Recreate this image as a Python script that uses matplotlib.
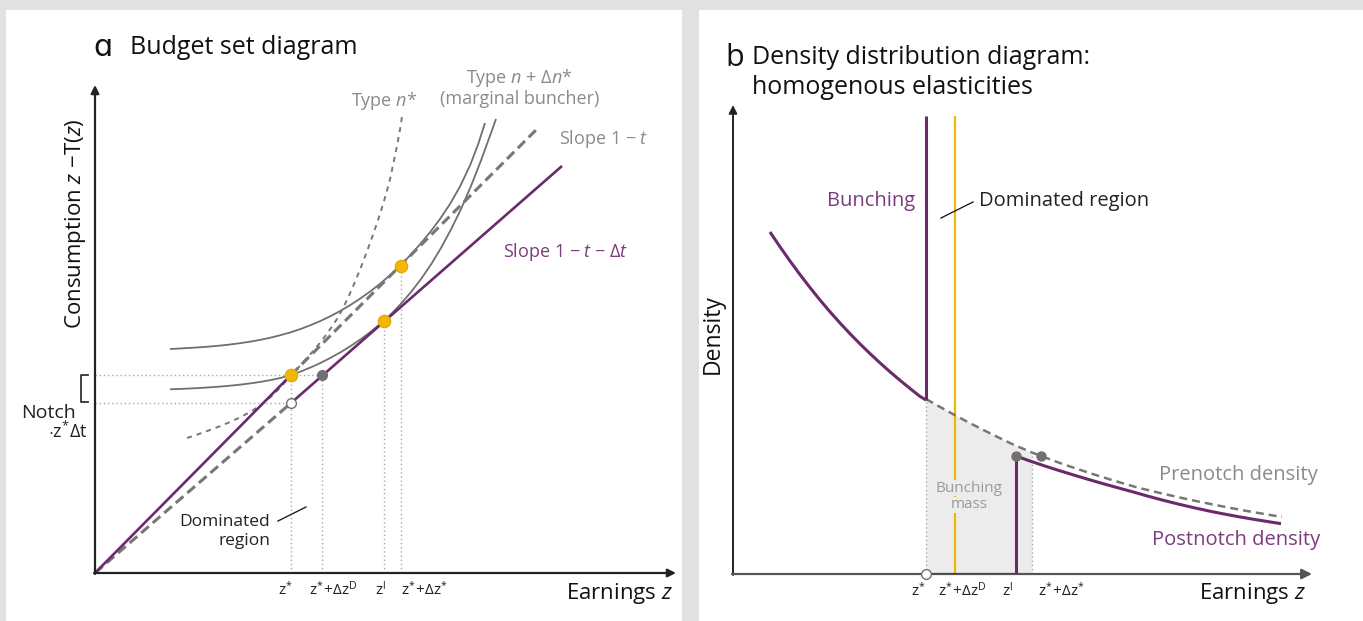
import matplotlib
matplotlib.use("Agg")
import matplotlib.pyplot as plt
from matplotlib.patches import Rectangle

plt.rcParams['font.family'] = ['Open Sans', 'DejaVu Sans']
plt.rcParams['mathtext.fontset'] = 'custom'
plt.rcParams['mathtext.rm'] = 'Open Sans'
plt.rcParams['mathtext.it'] = 'Open Sans:italic'
plt.rcParams['mathtext.bf'] = 'Open Sans:bold'

# ---------------- Panel a: budget set (arbitrary units) ----------------
pre_notch_z = [0, 196]
pre_notch_c = [0, 198]
counterfactual_z = [196, 443]
counterfactual_c = [198, 445]
post_notch_z = [196, 467]
post_notch_c = [170, 407]
dominated_z = [0, 196]
dominated_c = [0, 170]

ic_upper_z = [75, 85, 95, 105, 115, 125, 135, 145, 155, 165, 175, 185, 195, 205, 215, 225, 235, 245,
              255, 265, 275, 285, 295, 305, 315, 325, 335, 345, 355, 365, 375, 383, 390]
ic_upper_c = [224, 224.5, 225.1, 225.7, 226.5, 227.4, 228.5, 229.8, 231.3, 233.1, 235.2, 237.7, 240.5,
              243.8, 247.6, 251.8, 256.6, 261.9, 267.8, 274.3, 281.4, 289.2, 297.8, 307.2, 317.5, 328.7,
              340.7, 354, 369, 386.5, 407.5, 428.3, 450]
ic_lower_z = [75, 86, 96, 106, 116, 126, 136, 146, 156, 166, 176, 186, 196, 206, 216, 226, 236, 246,
              256, 266, 276, 286, 289, 296, 306, 316, 326, 336, 346, 356, 366, 376, 386, 396, 401]
ic_lower_c = [183.7, 184.1, 184.55, 185.1, 185.75, 186.5, 187.4, 188.45, 189.7, 191.2, 193, 195.2, 198,
              201.6, 205.7, 210.3, 215.4, 221, 227.2, 234, 241.5, 249.8, 252.4, 258.9, 269.3, 280.9,
              293.9, 308.5, 325, 343.5, 364, 387, 412.5, 440, 454]
nstar_z = [92, 103, 115, 125, 135, 145, 155, 164, 172, 180, 188, 196, 203, 210, 218, 225, 231, 236, 242,
           247, 252, 258, 263, 268, 273, 277, 281, 285, 289, 292, 295, 298, 301, 303, 306, 307]
nstar_c = [135, 138.7, 143, 146.8, 151, 155.6, 161, 166.6, 172.8, 180, 188.5, 197.5, 205, 212.8, 221.8,
           230.2, 238, 245, 254, 263, 273, 286.5, 298.5, 311, 324.5, 335.5, 347, 359, 372, 382.5, 393.5,
           408, 422, 432.5, 449, 457]

orange_z = [196, 289, 306]
orange_c = [198, 252, 307]
gray_dot_z = [227]
gray_dot_c = [198]
open_z = [196]
open_c = [170]

a_tick_labels = [r"$\mathrm{z^{*}}$", r"$\mathrm{z^{*}\!+\!Δz^{D}}$", r"$\mathrm{z^{l}}$",
                 r"$\mathrm{z^{*}\!+\!Δz^{*}}$"]
a_tick_label_x = [190, 238, 286, 329]

# ---------------- Panel b: densities ----------------
left_density_z = [37, 47, 57, 67, 77, 87, 97, 107, 117, 127, 137, 147, 157, 167, 177, 187, 193]
left_density_h = [342, 327.2, 313, 299.4, 286.4, 274, 262.2, 251, 240.3, 230.1, 220.4, 211.1, 202.2,
                  193.7, 185.5, 177.6, 174]
prenotch_z = [193, 205, 220, 235, 252, 266, 280, 299, 308, 325, 340, 360, 382, 405, 425, 448, 470, 490,
              510, 530, 549]
prenotch_h = [175, 168.2, 159.9, 151.9, 143.2, 136.3, 129.6, 121.5, 118, 111.7, 106.5, 99.9, 93, 86.3,
              81.5, 76.2, 71.5, 67.5, 63.7, 60.2, 57]
postnotch_z = [283, 295, 310, 325, 340, 355, 370, 385, 400, 415, 430, 445, 460, 475, 490, 505, 520, 535, 548]
postnotch_h = [118, 113.7, 108.6, 103.8, 99.2, 94.7, 90.35, 86.15, 82.1, 77.8, 73.8, 70, 66.5, 63.2,
               60.2, 57.4, 54.8, 52.4, 50.3]
b_zstar, b_zD, b_zI, b_zDstar = 193, 222, 283, 299
spike_top = 458
b_gray_dots_z = [283, 308]
b_gray_dots_h = [118, 118]
b_tick_labels = a_tick_labels
b_tick_label_x = [185, 229, 275, 328]

PURPLE = "#6b2a6c"
PURPLE_TXT = "#7b3b7c"
ORANGE = "#f2b705"
GRAY_LINE = "#6f6f6f"
DASH = "#777777"
DOT = "#a8a8a8"
GRAY_TXT = "#8a8a8a"
SHADE = "#ececec"

W, H = 1363, 621
fig = plt.figure(figsize=(W / 100, H / 100), dpi=100, facecolor="#e1e1e1")
fig.add_artist(Rectangle((6 / W, 0), (682 - 6) / W, (H - 10) / H, transform=fig.transFigure,
                         facecolor="white", edgecolor="none", zorder=0))
fig.add_artist(Rectangle((699 / W, 0), (W - 699) / W, (H - 10) / H, transform=fig.transFigure,
                         facecolor="white", edgecolor="none", zorder=0))


def make_axes(ox, oy, w=600, h=500):
    ax = fig.add_axes([ox / W, (H - oy) / H, w / W, h / H])
    ax.set_xlim(0, w)
    ax.set_ylim(0, h)
    ax.axis("off")
    return ax


DOTTED = (0, (1, 2))
LONGDASH = (0, (3.3, 1.7))

# ======================= Panel a =======================
ax = make_axes(95, 573)
kw = dict(clip_on=False, solid_capstyle="butt", solid_joinstyle="round")
for z, c in zip(orange_z + gray_dot_z, orange_c + gray_dot_c):
    ax.plot([z, z], [0, c], color=DOT, lw=1, ls=DOTTED, clip_on=False, zorder=1)
ax.plot([0, gray_dot_z[0]], [gray_dot_c[0], gray_dot_c[0]], color=DOT, lw=1, ls=DOTTED, clip_on=False, zorder=1)
ax.plot([0, open_z[0]], [open_c[0], open_c[0]], color=DOT, lw=1, ls=DOTTED, clip_on=False, zorder=1)

ax.plot(ic_upper_z, ic_upper_c, color=GRAY_LINE, lw=1.3, zorder=2, **kw)
ax.plot(ic_lower_z, ic_lower_c, color=GRAY_LINE, lw=1.3, zorder=2, **kw)
ax.plot(nstar_z, nstar_c, color=DASH, lw=1.4, ls=(0, (2.6, 2.6)), zorder=2, clip_on=False)
ax.plot(counterfactual_z, counterfactual_c, color=DASH, lw=2.2, ls=LONGDASH, zorder=2, clip_on=False)
ax.plot(dominated_z, dominated_c, color=DASH, lw=2.2, ls=LONGDASH, zorder=2, clip_on=False)
ax.plot(pre_notch_z, pre_notch_c, color=PURPLE, lw=1.9, zorder=3, **kw)
ax.plot(post_notch_z, post_notch_c, color=PURPLE, lw=1.9, zorder=3, **kw)

ax.plot(orange_z, orange_c, "o", ms=9, mfc=ORANGE, mec="#e3a500", mew=0.8, zorder=5, clip_on=False)
ax.plot(gray_dot_z, gray_dot_c, "o", ms=7, mfc="#707070", mec="#707070", zorder=5, clip_on=False)
ax.plot(open_z, open_c, "o", ms=7, mfc="white", mec="#707070", mew=1, zorder=5, clip_on=False)

ax.annotate("", xy=(0, 488), xytext=(0, -1),
            arrowprops=dict(arrowstyle="-|>", color="#222222", lw=1.6, mutation_scale=12, shrinkA=0, shrinkB=0))
ax.annotate("", xy=(581, 0), xytext=(-1, 0),
            arrowprops=dict(arrowstyle="-|>", color="#222222", lw=1.6, mutation_scale=12, shrinkA=0, shrinkB=0))

ax.plot([-7, -14, -14, -7], [198, 198, 171, 171], color="#333333", lw=1.3, clip_on=False)
ax.text(-19, 160, "Notch", ha="right", va="center", fontsize=14, color="#222222")
ax.text(-8, 142, r"$\mathrm{\cdot z^{*}Δt}$", ha="right", va="center", fontsize=13, color="#222222")

for x, lab in zip(a_tick_label_x, a_tick_labels):
    ax.text(x, -17, lab, ha="center", va="center", fontsize=11, color="#222222")

ax.text(-2, 526, "ɑ", ha="left", va="center", fontsize=22, color="#111111", family=["DejaVu Sans"])
ax.text(35, 526, "Budget set diagram", ha="left", va="center", fontsize=18, color="#111111")
ax.text(-19, 349, r"Consumption $z$ −T($z$)", rotation=90, ha="center", va="center",
        fontsize=16, color="#111111")
ax.text(578, -21, r"Earnings $z$", ha="right", va="center", fontsize=16, color="#111111")

LAB = 13
ax.text(322, 472, r"Type $n$*", ha="right", va="center", fontsize=LAB, color=GRAY_TXT)
ax.text(424, 495, r"Type $n$ + Δ$n$*", ha="center", va="center", fontsize=LAB, color=GRAY_TXT)
ax.text(425, 474, "(marginal buncher)", ha="center", va="center", fontsize=LAB, color=GRAY_TXT)
ax.text(464, 434, r"Slope 1 − $t$", ha="left", va="center", fontsize=LAB, color=GRAY_TXT)
ax.text(408, 321, r"Slope 1 − $t$ − Δ$t$", ha="left", va="center", fontsize=LAB, color=PURPLE_TXT)
ax.text(175, 51, "Dominated", ha="right", va="center", fontsize=12.5, color="#222222")
ax.text(175, 32, "region", ha="right", va="center", fontsize=12.5, color="#222222")
ax.plot([183, 211], [52, 66], color="#222222", lw=1, clip_on=False)

# ======================= Panel b =======================
bx = make_axes(733, 574)
shade_z = [z for z in prenotch_z if z <= b_zDstar]
shade_h = [h for z, h in zip(prenotch_z, prenotch_h) if z <= b_zDstar]
bx.fill_between(shade_z, shade_h, 0, color=SHADE, lw=0, zorder=0)
bx.plot([b_zstar, b_zstar], [0, prenotch_h[0]], color=DOT, lw=1, ls=DOTTED, zorder=1)
bx.plot([b_zDstar, b_zDstar], [0, shade_h[-1]], color=DOT, lw=1, ls=DOTTED, zorder=1)
bx.plot([b_zD, b_zD], [0, spike_top], color=ORANGE, lw=1.6, zorder=2, solid_capstyle="butt")

bx.plot(prenotch_z, prenotch_h, color=DASH, lw=1.8, ls=(0, (3.2, 2.0)), zorder=3)
bkw = dict(solid_capstyle="butt", solid_joinstyle="round")
bx.plot(left_density_z, left_density_h, color=PURPLE, lw=2.2, zorder=4, **bkw)
bx.plot([b_zstar, b_zstar], [left_density_h[-1], spike_top], color=PURPLE, lw=2.2, zorder=4, **bkw)
bx.plot([b_zstar, b_zI, b_zI], [0, 0, postnotch_h[0]], color=PURPLE, lw=2.2, zorder=4)
bx.plot(postnotch_z, postnotch_h, color=PURPLE, lw=2.2, zorder=4, **bkw)

bx.plot(b_gray_dots_z, b_gray_dots_h, "o", ms=6.5, mfc="#707070", mec="#707070", zorder=6, clip_on=False)
bx.plot([b_zstar], [0], "o", ms=7, mfc="white", mec="#707070", mew=1, zorder=6, clip_on=False)

bx.annotate("", xy=(0, 469), xytext=(0, -1),
            arrowprops=dict(arrowstyle="-|>", color="#222222", lw=1.4, mutation_scale=12, shrinkA=0, shrinkB=0))
bx.annotate("", xy=(579, 0), xytext=(-1, 0),
            arrowprops=dict(arrowstyle="-|>", color="#555555", lw=1.6, mutation_scale=15, shrinkA=0, shrinkB=0))

t1 = bx.text(236, 86, "Bunching", ha="center", va="center", fontsize=11, color="#9a9a9a", zorder=5)
t2 = bx.text(236, 69, "mass", ha="center", va="center", fontsize=11, color="#9a9a9a", zorder=5)
for t in (t1, t2):
    t.set_bbox(dict(facecolor=SHADE, edgecolor="none", pad=0.5))

for x, lab in zip(b_tick_label_x, b_tick_labels):
    bx.text(x, -17, lab, ha="center", va="center", fontsize=11, color="#222222")

bx.text(-8, 516, "b", ha="left", va="center", fontsize=22, color="#111111")
bx.text(19, 516, "Density distribution diagram:", ha="left", va="center", fontsize=18, color="#111111")
bx.text(19, 487, "homogenous elasticities", ha="left", va="center", fontsize=18, color="#111111")
bx.text(-20, 240, "Density", rotation=90, ha="center", va="center", fontsize=16.5, color="#111111")
bx.text(573, -20, r"Earnings $z$", ha="right", va="center", fontsize=16, color="#111111")

BL = 14.5
bx.text(182, 373, "Bunching", ha="right", va="center", fontsize=BL, color=PURPLE_TXT)
bx.text(246, 373, "Dominated region", ha="left", va="center", fontsize=BL, color="#222222")
bx.plot([208, 240], [356, 372], color="#222222", lw=1, zorder=6)
bx.text(585, 99, "Prenotch density", ha="right", va="center", fontsize=BL, color=GRAY_TXT)
bx.text(587, 34, "Postnotch density", ha="right", va="center", fontsize=BL, color=PURPLE_TXT)

fig.savefig("out.png", dpi=100, facecolor=fig.get_facecolor())
